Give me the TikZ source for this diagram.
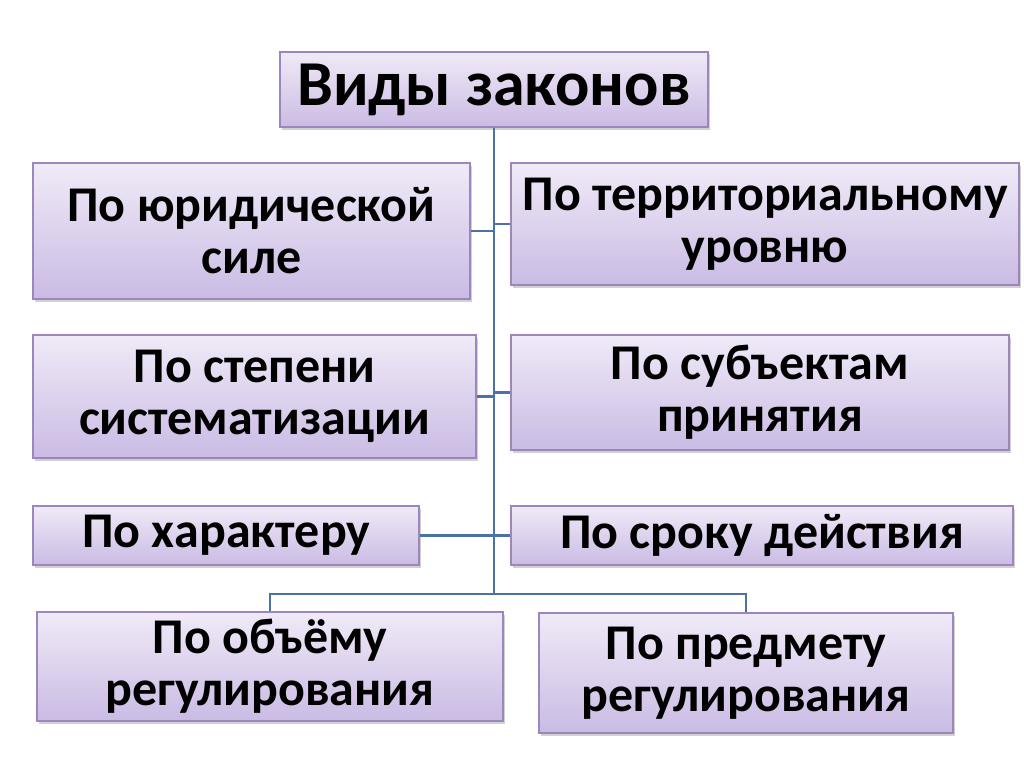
\documentclass[tikz,border=0pt]{standalone}
\usepackage{fontspec}
\setmainfont{Carlito}
\usetikzlibrary{shadows}
\definecolor{boxtop}{HTML}{F0EAF7}
\definecolor{boxbot}{HTML}{CABBE4}
\definecolor{boxline}{HTML}{9C86BE}
\definecolor{conn}{HTML}{4A72A5}
\tikzset{
  box/.style={draw=boxline, line width=1.2pt, top color=boxtop, bottom color=boxbot,
    inner sep=0pt, align=center, font=\fontsize{50}{52}\selectfont\bfseries,
    drop shadow={shadow xshift=2pt, shadow yshift=-2.5pt, fill=black, opacity=0.18}},
  connector/.style={draw=conn, line width=2.8pt}
}
\begin{document}
\begin{tikzpicture}[x=1pt,y=-1pt]
\useasboundingbox[fill=white] (0,0) rectangle (1024,768);
\coordinate (hub) at (494,594);
\node[box, minimum width=428pt, minimum height=75pt, font=\fontsize{64}{66}\selectfont\bfseries] (title) at (494,89.5) {Виды законов};
\node[box, minimum width=437pt, minimum height=136pt] (l1) at (251.5,231) {По юридической\\силе};
\node[box, minimum width=508pt, minimum height=122pt] (r1) at (765,224) {По территориальному\\уровню};
\node[box, minimum width=443pt, minimum height=123pt] (l2) at (254.5,396.5) {По степени\\систематизации};
\node[box, minimum width=498pt, minimum height=115pt] (r2) at (760,392.5) {По субъектам\\принятия};
\node[box, minimum width=386pt, minimum height=59pt] (l3) at (226,535.5) {По характеру};
\node[box, minimum width=502pt, minimum height=59pt] (r3) at (762,535.5) {По сроку действия};
\node[box, minimum width=466pt, minimum height=109pt] (b1) at (270,666.5) {По объёму\\регулирования};
\node[box, minimum width=414pt, minimum height=120pt] (b2) at (746,673) {По предмету\\регулирования};
\draw[connector] (title.south) -- (hub);
\foreach \n in {l1,l2,l3} \draw[connector] (\n.east) -- (\n.east -| hub);
\foreach \n in {r1,r2,r3} \draw[connector] (\n.west) -- (\n.west -| hub);
\draw[connector] (b1.north) |- (hub) -| (b2.north);
\end{tikzpicture}
\end{document}
